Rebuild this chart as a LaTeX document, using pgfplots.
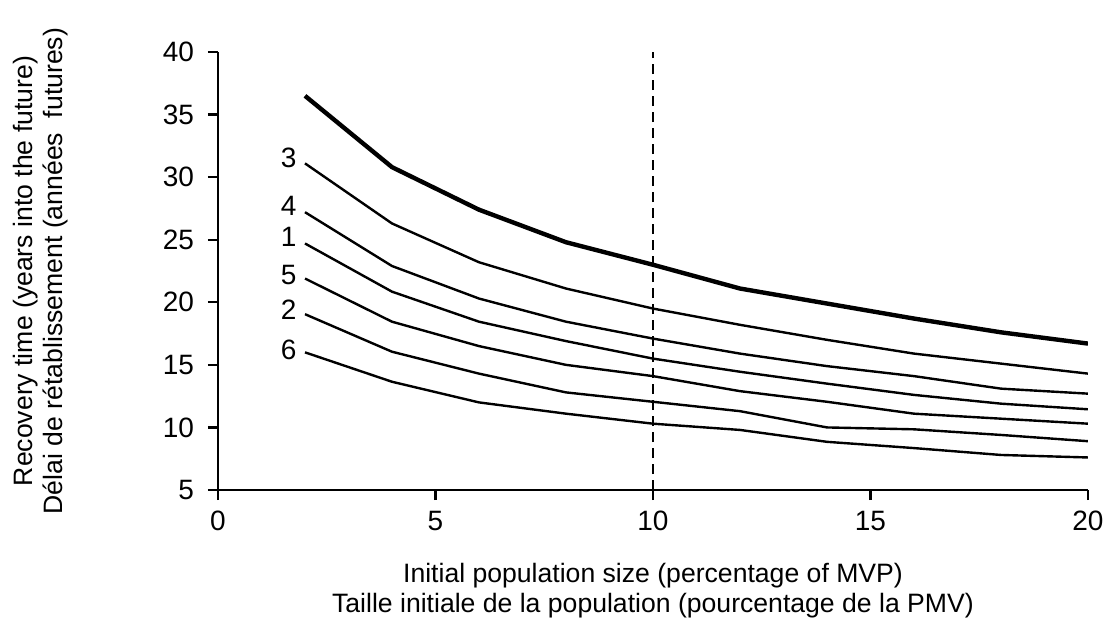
\documentclass[border=0pt]{standalone}
\usepackage{fontspec}
\setmainfont{Liberation Sans}
\usepackage{pgfplots}
\pgfplotsset{compat=1.18}
\begin{document}
\begin{tikzpicture}
\begin{axis}[
  name=ax, at={(0,0)}, anchor=south west,
  scale only axis, width=435pt, height=219pt,
  xmin=0, xmax=20, ymin=5, ymax=40,
  xtick={0,5,10,15,20}, ytick={5,10,15,20,25,30,35,40},
  axis x line=bottom, axis y line=left,
  axis line style={-, line width=1.2pt},
  tick align=outside, major tick length=5pt,
  tick style={line width=1.2pt, black},
  /pgf/number format/assume math mode=true,
  ticklabel style={font=\fontsize{14}{16}\selectfont},
  xticklabel style={yshift=-2pt},
  yticklabel style={xshift=-3.5pt},
  label style={font=\fontsize{13.3}{15}\selectfont, align=center},
  xlabel={Initial population size (percentage of MVP)\\Taille initiale de la population (pourcentage de la PMV)},
  xlabel style={at={(axis description cs:0.5,-0.2306)}, anchor=center},
  ylabel={Recovery time (years into the future)\\Délai de rétablissement (années\ \ futures)},
  ylabel style={at={(axis description cs:-0.2034,0.5)}, anchor=center},
]
\addplot[black, mark=none, line width=2.2pt] coordinates {(2,36.5) (4,30.8) (6,27.4) (8,24.8) (10,23.0) (12,21.1) (14,19.9) (16,18.7) (18,17.6) (20,16.7)};
\addplot[black, mark=none, line width=1.2pt] coordinates {(2,31.1) (4,26.3) (6,23.2) (8,21.1) (10,19.5) (12,18.2) (14,17.0) (16,15.9) (18,15.1) (20,14.3)};
\addplot[black, mark=none, line width=1.2pt] coordinates {(2,27.2) (4,22.9) (6,20.3) (8,18.45) (10,17.1) (12,15.9) (14,14.9) (16,14.1) (18,13.1) (20,12.7)};
\addplot[black, mark=none, line width=1.2pt] coordinates {(2,24.7) (4,20.85) (6,18.45) (8,16.9) (10,15.5) (12,14.45) (14,13.5) (16,12.6) (18,11.9) (20,11.45)};
\addplot[black, mark=none, line width=1.2pt] coordinates {(2,21.9) (4,18.45) (6,16.5) (8,15.0) (10,14.1) (12,12.9) (14,12.05) (16,11.1) (18,10.7) (20,10.3)};
\addplot[black, mark=none, line width=1.2pt] coordinates {(2,19.05) (4,16.05) (6,14.3) (8,12.8) (10,12.05) (12,11.3) (14,10.0) (16,9.85) (18,9.4) (20,8.9)};
\addplot[black, mark=none, line width=1.2pt] coordinates {(2,16.0) (4,13.65) (6,12.0) (8,11.1) (10,10.3) (12,9.8) (14,8.85) (16,8.35) (18,7.8) (20,7.6)};
\addplot[black, mark=none, line width=1.2pt, dash pattern=on 5pt off 3pt] coordinates {(10,5) (10,40)};
\begin{scope}[every node/.style={anchor=east, inner sep=0pt, font=\fontsize{14}{16}\selectfont}]
\node at (axis cs:1.81,31.57) {3};
\node at (axis cs:1.81,27.67) {4};
\node at (axis cs:1.81,25.24) {1};
\node at (axis cs:1.81,22.22) {5};
\node at (axis cs:1.81,19.38) {2};
\node at (axis cs:1.81,16.16) {6};
\end{scope}
\end{axis}
\pgfresetboundingbox
\path[use as bounding box] (-109pt,-66.5pt) rectangle (446pt,245pt);
\end{tikzpicture}
\end{document}
